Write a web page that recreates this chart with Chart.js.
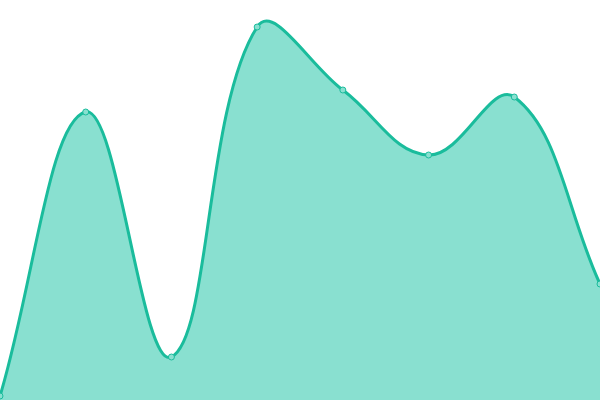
<!DOCTYPE html>
<html>
<head>
<meta charset="utf-8">
<script src="https://cdn.jsdelivr.net/npm/chart.js@4"></script>
<style>
  html, body { margin: 0; padding: 0; background: #fff; }
  #wrap { width: 600px; height: 400px; }
</style>
</head>
<body>
<div id="wrap"><canvas id="chart"></canvas></div>
<script>
// Categories and values (scale 0..100)
const labels = ['1', '2', '3', '4', '5', '6', '7', '8'];
const values = [1, 72, 10.75, 93.25, 77.5, 61.25, 75.75, 29];

const LINE = '#1abc9c';
const FILL = '#89e0d0';

new Chart(document.getElementById('chart'), {
  type: 'line',
  data: {
    labels,
    datasets: [{
      data: values,
      fill: true,
      backgroundColor: FILL,
      borderColor: LINE,
      borderWidth: 3,
      tension: 0.4,
      pointRadius: 3,
      pointBackgroundColor: FILL,
      pointBorderColor: LINE,
      pointBorderWidth: 1,
    }],
  },
  options: {
    responsive: true,
    maintainAspectRatio: false,
    animation: false,
    layout: { padding: 0, autoPadding: false },
    plugins: { legend: { display: false }, tooltip: { enabled: false } },
    scales: {
      x: { display: false, offset: false },
      y: { display: false, min: 0, max: 100 },
    },
  },
});
</script>
</body>
</html>
